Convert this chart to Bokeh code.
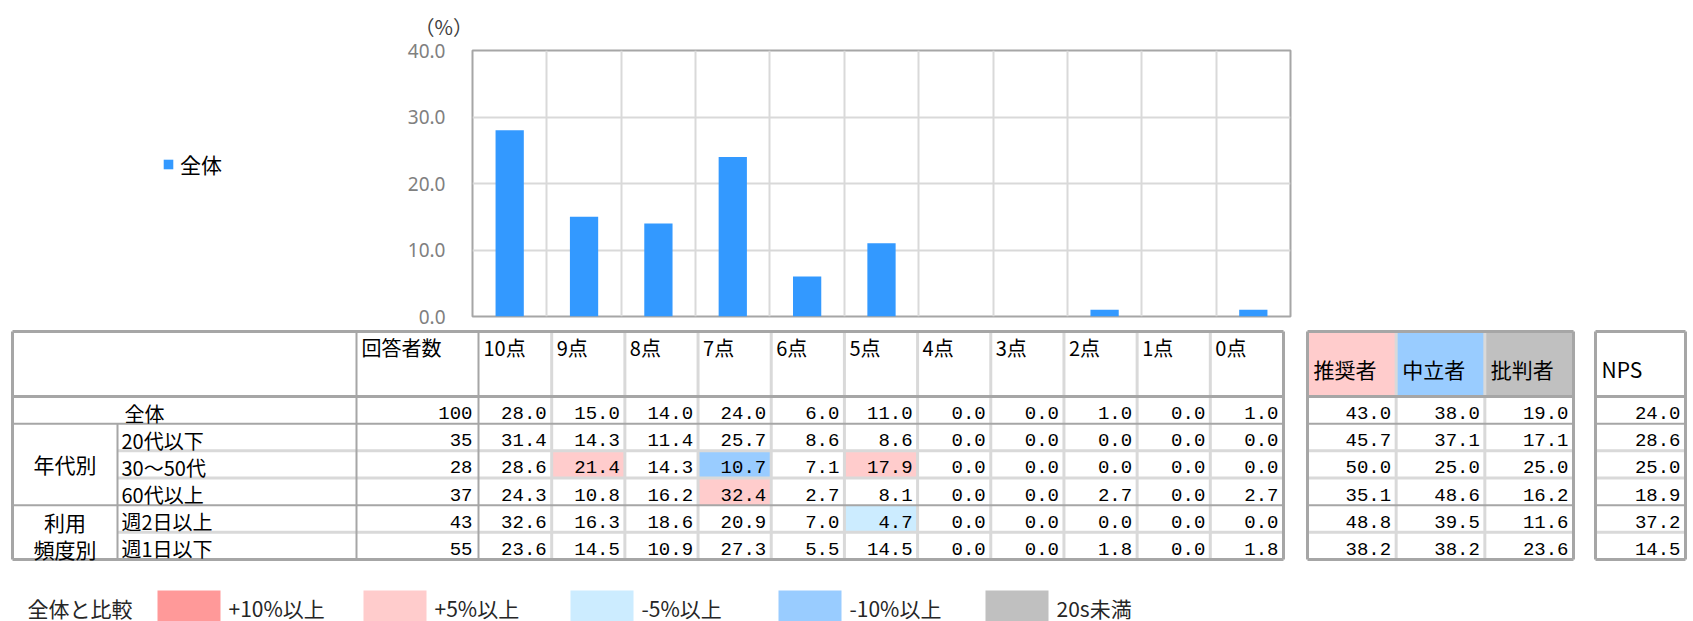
from bokeh.plotting import figure
from bokeh.models import (Range1d, FixedTicker, NumeralTickFormatter, Legend,
                          LegendItem)
from bokeh.layouts import column, row
from bokeh.embed import file_html
from bokeh.resources import INLINE
from bokeh.core.properties import value

# ---------------- data ----------------
score_labels = ["10点", "9点", "8点", "7点", "6点", "5点", "4点", "3点", "2点", "1点", "0点"]
row_labels = ["全体", "20代以下", "30～50代", "60代以上", "週2日以上", "週1日以下"]
respondents = [100, 35, 28, 37, 43, 55]
scores_all = [28.0, 15.0, 14.0, 24.0, 6.0, 11.0, 0.0, 0.0, 1.0, 0.0, 1.0]
scores_20s = [31.4, 14.3, 11.4, 25.7, 8.6, 8.6, 0.0, 0.0, 0.0, 0.0, 0.0]
scores_30_50s = [28.6, 21.4, 14.3, 10.7, 7.1, 17.9, 0.0, 0.0, 0.0, 0.0, 0.0]
scores_60s = [24.3, 10.8, 16.2, 32.4, 2.7, 8.1, 0.0, 0.0, 2.7, 0.0, 2.7]
scores_2days = [32.6, 16.3, 18.6, 20.9, 7.0, 4.7, 0.0, 0.0, 0.0, 0.0, 0.0]
scores_1day = [23.6, 14.5, 10.9, 27.3, 5.5, 14.5, 0.0, 0.0, 1.8, 0.0, 1.8]
promoters = [43.0, 45.7, 50.0, 35.1, 48.8, 38.2]
passives = [38.0, 37.1, 25.0, 48.6, 39.5, 38.2]
detractors = [19.0, 17.1, 25.0, 16.2, 11.6, 23.6]
nps = [24.0, 28.6, 25.0, 18.9, 37.2, 14.5]
segment_headers = ["推奨者", "中立者", "批判者"]
segment_colors = ["#FFCCCC", "#99CCFF", "#C0C0C0"]
legend_title = "全体と比較"
legend_labels = ["+10%以上", "+5%以上", "-5%以上", "-10%以上", "20s未満"]
legend_colors = ["#FF9999", "#FFCCCC", "#CCECFF", "#99CCFF", "#C0C0C0"]
series_name = "全体"
unit_label = "（%）"
y_ticks = [0, 10, 20, 30, 40]

score_rows = [scores_all, scores_20s, scores_30_50s, scores_60s, scores_2days, scores_1day]

JP = "Noto Sans CJK JP"
NUM = "Liberation Mono"
BAR = "#3399FF"

# ---------------- layout (page pixels) ----------------
W, H = 1693, 621
TOP_H = 328          # height of the chart strip
SIDE_W = 400         # width of the left strip holding the series legend
FR_L, FR_R, FR_T, FR_B = 472, 1290, 48, 316

# ---------------- left strip with legend ----------------
side = figure(width=SIDE_W, height=TOP_H, x_range=Range1d(0, SIDE_W), y_range=Range1d(0, TOP_H),
              output_backend="svg", toolbar_location=None, min_border=0)
side.min_border_left = side.min_border_right = side.min_border_top = side.min_border_bottom = 0
side.outline_line_color = None
side.axis.visible = False
side.grid.visible = False
side.frame_align = False
# legend key: same style as the bars, its only mark lies outside the visible strip
key = side.vbar(x=[-50], top=[-50], width=1, fill_color=BAR, line_color=None)
leg = Legend(items=[LegendItem(label=series_name, renderers=[key])],
             location=(162, TOP_H - 179),
             padding=0, margin=0, spacing=0, border_line_color=None,
             background_fill_alpha=0, glyph_width=12, glyph_height=12,
             label_standoff=6, label_text_font=JP, label_text_font_size="21px",
             label_height=26, label_text_color="#000000")
side.add_layout(leg)

# ---------------- bar chart ----------------
n_cat = len(score_labels)
p = figure(width=W - SIDE_W, height=TOP_H, x_range=Range1d(0, n_cat), y_range=Range1d(0, 40),
           output_backend="svg", toolbar_location=None,
           min_border_left=FR_L - SIDE_W, min_border_right=W - FR_R,
           min_border_top=FR_T, min_border_bottom=TOP_H - FR_B)
p.frame_align = False
p.outline_line_color = "#A6A6A6"
p.outline_line_width = 2
p.xaxis.visible = False
p.yaxis.ticker = FixedTicker(ticks=y_ticks)
p.yaxis.formatter = NumeralTickFormatter(format="0.0")
p.yaxis.axis_line_color = None
p.yaxis.major_tick_line_color = None
p.yaxis.minor_tick_line_color = None
p.yaxis.major_tick_out = 0
p.yaxis.major_tick_in = 0
p.yaxis.major_label_standoff = 27
p.yaxis.major_label_text_font = "Noto Sans"
p.yaxis.major_label_text_font_size = "19px"
p.yaxis.major_label_text_color = "#808080"
p.xgrid.ticker = FixedTicker(ticks=list(range(1, n_cat)))
p.ygrid.ticker = FixedTicker(ticks=y_ticks[1:-1])
p.xgrid.grid_line_color = "#D9D9D9"
p.ygrid.grid_line_color = "#D9D9D9"
p.xgrid.grid_line_width = 2
p.ygrid.grid_line_width = 2

p.title.text = unit_label
p.title.align = "left"
p.title.offset = -58
p.title.standoff = 19
p.title.text_font = JP
p.title.text_font_size = "20px"
p.title.text_font_style = "normal"
p.title.text_color = "#404040"

xs = [i + 0.5 for i in range(n_cat)]
p.vbar(x=xs, top=scores_all, width=0.38, fill_color=BAR, line_color=None)

# ---------------- table ----------------
TB_H = H - TOP_H
t = figure(width=W, height=TB_H, x_range=Range1d(0, W), y_range=Range1d(H, TOP_H),
           output_backend="svg", toolbar_location=None, min_border=0)
t.min_border_left = t.min_border_right = t.min_border_top = t.min_border_bottom = 0
t.frame_align = False
t.outline_line_color = None
t.axis.visible = False
t.grid.visible = False

TX0, TG, TN, TS0, TS1 = 12, 117, 356, 478, 1283
TY0, TH, TY1 = 331, 396, 559
n_rows = len(row_labels)
RH = (TY1 - TH) / n_rows
CW = (TS1 - TS0) / n_cat
col_edges = [TS0 + j * CW for j in range(n_cat + 1)]
row_edges = [TH + i * RH for i in range(n_rows + 1)]

S0, S1 = 1307, 1573
SW = (S1 - S0) / 3
seg_edges = [S0 + k * SW for k in range(4)]
N0, N1 = 1595, 1685

DARK = "#A6A6A6"
LIGHT = "#D9D9D9"


def diff_color(v, base):
    d = v - base
    if d >= 10:
        return legend_colors[0]
    if d >= 5:
        return legend_colors[1]
    if d <= -10:
        return legend_colors[3]
    if d <= -5:
        return legend_colors[2]
    return None


# highlighted cells
hl, hr, ht, hb, hc = [], [], [], [], []
for i in range(1, n_rows):
    for j in range(n_cat):
        c = diff_color(score_rows[i][j], score_rows[0][j])
        if c:
            hl.append(col_edges[j]); hr.append(col_edges[j + 1])
            ht.append(row_edges[i]); hb.append(row_edges[i + 1]); hc.append(c)
t.quad(left=hl, right=hr, top=ht, bottom=hb, fill_color=hc, line_color=None)

# segment header fills
t.quad(left=seg_edges[:-1], right=seg_edges[1:], top=[TY0] * 3, bottom=[TH] * 3,
       fill_color=segment_colors, line_color=None)

# light lines
lx0, ly0, lx1, ly1 = [], [], [], []
for j in range(1, n_cat):
    lx0.append(col_edges[j]); lx1.append(col_edges[j]); ly0.append(TY0); ly1.append(TY1)
for k in (1, 2):
    lx0.append(seg_edges[k]); lx1.append(seg_edges[k]); ly0.append(TY0); ly1.append(TY1)
for i in (2, 3, 5):
    for a, b in ((TG, TS1), (S0, S1), (N0, N1)):
        lx0.append(a); lx1.append(b); ly0.append(row_edges[i]); ly1.append(row_edges[i])
t.segment(x0=lx0, y0=ly0, x1=lx1, y1=ly1, line_color=LIGHT, line_width=3)

# dark lines
dx0, dy0, dx1, dy1, dw = [], [], [], [], []
for a, b in ((TX0, TS1), (S0, S1), (N0, N1)):
    for yy, wdt in ((TY0, 3), (TY1, 3), (TH, 3), (row_edges[1], 2), (row_edges[4], 2)):
        dx0.append(a); dx1.append(b); dy0.append(yy); dy1.append(yy); dw.append(wdt)
    for xx in (a, b):
        dx0.append(xx); dx1.append(xx); dy0.append(TY0); dy1.append(TY1); dw.append(3)
for xx in (TN, TS0):
    dx0.append(xx); dx1.append(xx); dy0.append(TY0); dy1.append(TY1); dw.append(2)
dx0.append(TG); dx1.append(TG); dy0.append(row_edges[1]); dy1.append(TY1); dw.append(2)
t.segment(x0=dx0, y0=dy0, x1=dx1, y1=dy1, line_color=DARK, line_width=dw)

# header texts
t.text(x=[col_edges[j] + 5 for j in range(n_cat)] + [TN + 5], y=[347] * (n_cat + 1),
       text=score_labels + ["回答者数"], text_align="left", text_baseline="middle",
       text_font=value(JP), text_font_size="20px", text_color="#000000")
t.text(x=[seg_edges[k] + 6 for k in range(3)] + [N0 + 6], y=[368] * 4,
       text=segment_headers + ["NPS"], text_align="left", text_baseline="middle",
       text_font=value(JP), text_font_size="21px", text_color="#000000")

# row labels
ry = [row_edges[i] + RH / 2 + 3 for i in range(n_rows)]
t.text(x=[124] + [121] * (n_rows - 1), y=ry, text=row_labels, text_align="left",
       text_baseline="middle", text_font=value(JP), text_font_size="20px",
       text_color="#000000")
g_mid = (TX0 + TG) / 2
t.text(x=[g_mid, g_mid, g_mid], y=[(row_edges[1] + row_edges[4]) / 2, ry[4], ry[5]],
       text=["年代別", "利用", "頻度別"], text_align="center", text_baseline="middle",
       text_font=value(JP), text_font_size="21px", text_color="#000000")

# numbers
nx, ny, nt = [], [], []
for i in range(n_rows):
    nx.append(TS0 - 6); ny.append(ry[i]); nt.append(str(respondents[i]))
    for j in range(n_cat):
        nx.append(col_edges[j + 1] - 5); ny.append(ry[i]); nt.append(f"{score_rows[i][j]:.1f}")
    for k, arr in enumerate((promoters, passives, detractors)):
        nx.append(seg_edges[k + 1] - 5); ny.append(ry[i]); nt.append(f"{arr[i]:.1f}")
    nx.append(N1 - 5); ny.append(ry[i]); nt.append(f"{nps[i]:.1f}")
t.text(x=nx, y=ny, text=nt, text_align="right", text_baseline="middle",
       text_font=value(NUM), text_font_size="19px", text_color="#000000")

# bottom legend
sw_left = [157, 363, 570, 778, 985]
LY = 607
t.quad(left=sw_left, right=[v + 63 for v in sw_left], top=[590] * 5,
       bottom=[H] * 5, fill_color=legend_colors, line_color=None)
t.text(x=[27] + [v + 71 for v in sw_left], y=[LY] * 6, text=[legend_title] + legend_labels,
       text_align="left", text_baseline="middle", text_font=value(JP),
       text_font_size="21px", text_color="#262626")

layout = column(row(side, p, spacing=0), t, spacing=0)
open("out.html", "w").write(file_html(layout, INLINE))
